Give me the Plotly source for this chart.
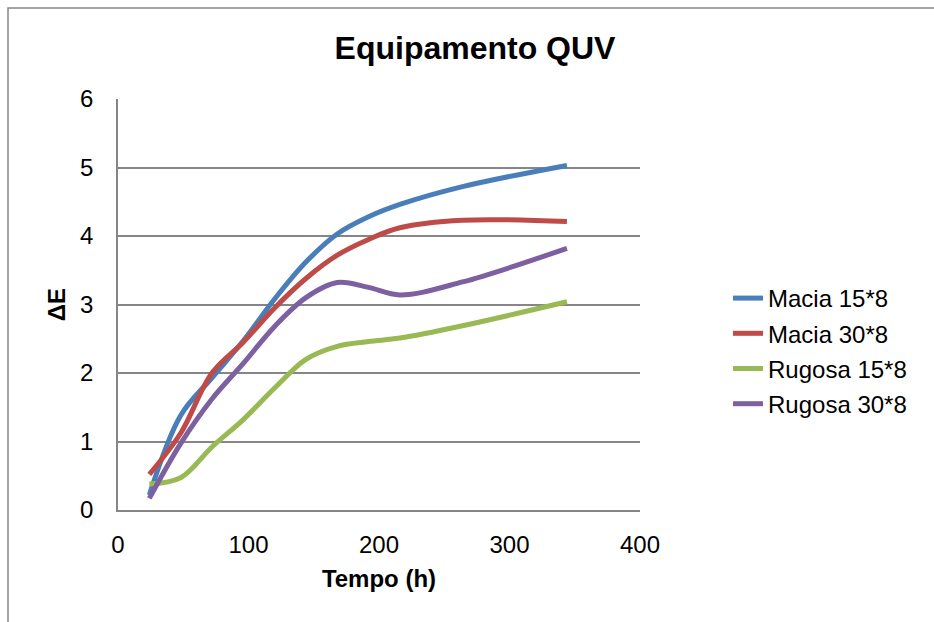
import plotly.graph_objects as go

hours = [24, 48, 72, 96, 120, 144, 168, 192, 216, 264, 344]
macia_15 = [0.22, 1.38, 1.93, 2.47, 3.08, 3.62, 4.03, 4.28, 4.46, 4.72, 5.03]
macia_30 = [0.52, 1.12, 2.0, 2.45, 2.95, 3.38, 3.72, 3.95, 4.12, 4.23, 4.21]
rugosa_15 = [0.38, 0.47, 0.92, 1.32, 1.78, 2.20, 2.39, 2.46, 2.51, 2.69, 3.04]
rugosa_30 = [0.17, 0.97, 1.62, 2.14, 2.68, 3.10, 3.32, 3.25, 3.14, 3.33, 3.82]

series = [
    ("Macia 15*8", macia_15, "#4A7EBB"),
    ("Macia 30*8", macia_30, "#BE4B48"),
    ("Rugosa 15*8", rugosa_15, "#98B954"),
    ("Rugosa 30*8", rugosa_30, "#7D60A0"),
]

FONT = "Liberation Sans, Arial, sans-serif"
W, H = 934, 622
L, R, T, B = 118, 294, 99, 112

fig = go.Figure()
for i, (name, vals, col) in enumerate(series):
    fig.add_trace(go.Scatter(
        x=hours, y=vals, name=name, mode="lines",
        line=dict(color=col, width=5, shape="spline", smoothing=1.0),
        legendgroup=f"g{i}",
    ))

pw, ph = W - L - R, H - T - B
fig.add_shape(type="rect", xref="paper", yref="paper",
              x0=(8 - L) / pw, x1=(W + 10 - L) / pw,
              y0=-(H + 10 - T - ph) / ph, y1=1 + (T - 8) / ph,
              line=dict(color="#868686", width=1.5), layer="below")

fig.update_layout(
    width=W, height=H,
    margin=dict(l=L, r=R, t=T, b=B),
    paper_bgcolor="white", plot_bgcolor="white",
    font=dict(family=FONT, size=24, color="black"),
    title=dict(text="<b>Equipamento QUV</b>", font=dict(size=32, family=FONT, color="black"),
               x=475 / W, xref="container", xanchor="center",
               y=1 - 48 / H, yref="container", yanchor="middle"),
    xaxis=dict(range=[0, 400], tickvals=[0, 100, 200, 300, 400], showgrid=False,
               showline=True, linecolor="#868686", linewidth=1.5, ticks="",
               zeroline=False, ticklabelstandoff=12,
               tickfont=dict(size=24, family=FONT, color="black"),
               title=dict(text="<b>Tempo (h)</b>", font=dict(size=24, family=FONT, color="black"),
                          standoff=14)),
    yaxis=dict(range=[0, 6], tickvals=[0, 1, 2, 3, 4, 5, 6], showgrid=True,
               gridcolor="#868686", gridwidth=1.5,
               showline=True, linecolor="#868686", linewidth=1.5, ticks="",
               zeroline=False, ticklabelstandoff=18,
               tickfont=dict(size=24, family=FONT, color="black"),
               title=dict(text="<b>ΔE</b>", font=dict(size=24, family=FONT, color="black"),
                          standoff=8)),
    legend=dict(x=728 / W, xref="container", xanchor="left",
                y=1 - 276 / H, yref="container", yanchor="top",
                font=dict(size=24, family=FONT, color="black"),
                tracegroupgap=1, bgcolor="rgba(0,0,0,0)"),
    showlegend=True,
)

fig.write_html("out.html")
